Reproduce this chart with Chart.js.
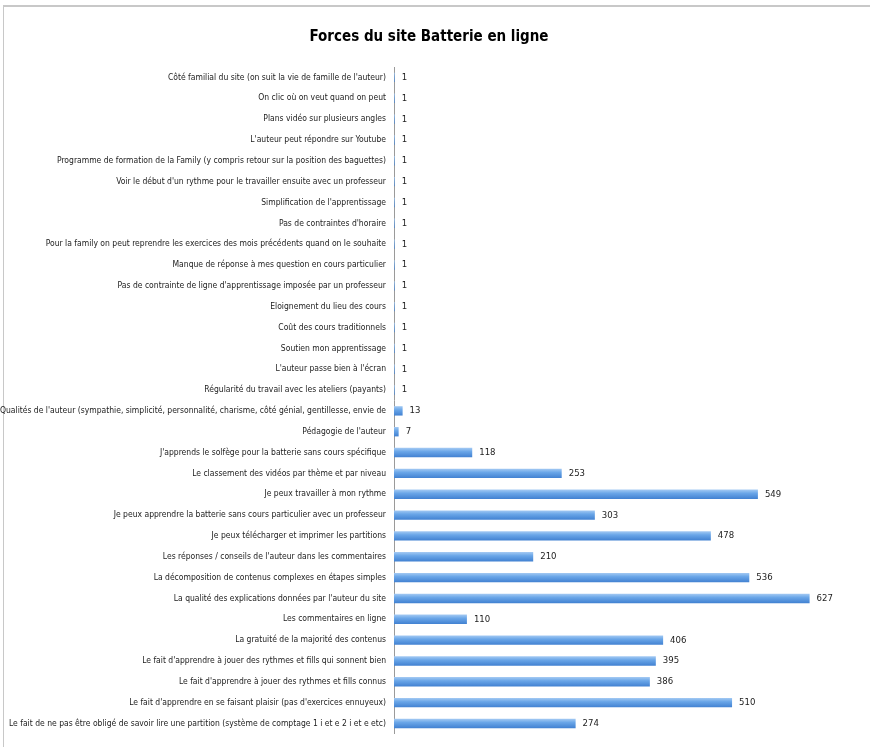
<!DOCTYPE html>
<html lang="fr">
<head>
    <meta charset="UTF-8">
    <title>Forces du site Batterie en ligne</title>
    <style>
        body {
            margin: 0;
            background: #ffffff;
        }
        .cadre {
            position: absolute;
            left: 3px;
            top: 5px;
            width: 867px;
            height: 742px;
            border-top: 2px solid #c8c8c8;
            border-left: 1px solid #c8c8c8;
        }
        .chart-container {
            position: absolute;
            left: 0;
            top: 0;
            width: 870px;
            height: 747px;
        }
    </style>
    <script src="https://cdn.jsdelivr.net/npm/chart.js"></script>
</head>
<body>
    <div class="cadre"></div>
    <div class="chart-container">
        <canvas id="forces"></canvas>
    </div>

    <script>
        // Données
        const forces = [
            "Côté familial du site (on suit la vie de famille de l'auteur)",
            "On clic où on veut quand on peut",
            "Plans vidéo sur plusieurs angles",
            "L'auteur peut répondre sur Youtube",
            "Programme de formation de la Family (y compris retour sur la position des baguettes)",
            "Voir le début d'un rythme pour le travailler ensuite avec un professeur",
            "Simplification de l'apprentissage",
            "Pas de contraintes d'horaire",
            "Pour la family on peut reprendre les exercices des mois précédents quand on le souhaite",
            "Manque de réponse à mes question en cours particulier",
            "Pas de contrainte de ligne d'apprentissage imposée par un professeur",
            "Eloignement du lieu des cours",
            "Coût des cours traditionnels",
            "Soutien mon apprentissage",
            "L'auteur passe bien à l'écran",
            "Régularité du travail avec les ateliers (payants)",
            "Qualités de l'auteur (sympathie, simplicité, personnalité, charisme, côté génial, gentillesse, envie de",
            "Pédagogie de l'auteur",
            "J'apprends le solfège pour la batterie sans cours spécifique",
            "Le classement des vidéos par thème et par niveau",
            "Je peux travailler à mon rythme",
            "Je peux apprendre la batterie sans cours particulier avec un professeur",
            "Je peux télécharger et imprimer les partitions",
            "Les réponses / conseils de l'auteur dans les commentaires",
            "La décomposition de contenus complexes en étapes simples",
            "La qualité des explications données par l'auteur du site",
            "Les commentaires en ligne",
            "La gratuité de la majorité des contenus",
            "Le fait d'apprendre à jouer des rythmes et fills qui sonnent bien",
            "Le fait d'apprendre à jouer des rythmes et fills connus",
            "Le fait d'apprendre en se faisant plaisir (pas d'exercices ennuyeux)",
            "Le fait de ne pas être obligé de savoir lire une partition (système de comptage 1 i et e 2 i et e etc)"
        ];
        const reponses = [1, 1, 1, 1, 1, 1, 1, 1, 1, 1, 1, 1, 1, 1, 1, 1, 13, 7, 118, 253, 549, 303, 478, 210, 536, 627, 110, 406, 395, 386, 510, 274];

        const police = "'Liberation Sans Narrow', 'DejaVu Sans Condensed', sans-serif";

        // Valeurs à droite des barres
        const etiquettes = {
            id: 'etiquettes',
            afterDatasetsDraw(chart) {
                const ctx = chart.ctx;
                const meta = chart.getDatasetMeta(0);
                ctx.save();
                ctx.font = '9.5px ' + police;
                ctx.fillStyle = '#222';
                ctx.textBaseline = 'middle';
                meta.data.forEach((bar, i) => {
                    ctx.fillText(reponses[i], bar.x + 7, bar.y);
                });
                ctx.restore();
            }
        };

        // Dégradé vertical pour chaque barre
        function degrade(context) {
            const chart = context.chart;
            if (!chart.chartArea) return '#5b9be0';
            const y = chart.scales.y.getPixelForValue(context.dataIndex);
            const g = chart.ctx.createLinearGradient(0, y - 5, 0, y + 5);
            g.addColorStop(0, '#a9cdf4');
            g.addColorStop(0.4, '#6aa6e8');
            g.addColorStop(1, '#3f7fd0');
            return g;
        }

        const ctxForces = document.getElementById('forces').getContext('2d');
        const graphique = new Chart(ctxForces, {
            type: 'bar',
            data: {
                labels: forces,
                datasets: [{
                    label: 'Forces',
                    data: reponses,
                    backgroundColor: degrade,
                    barPercentage: 0.45,
                    categoryPercentage: 1.0
                }]
            },
            options: {
                indexAxis: 'y',
                responsive: true,
                maintainAspectRatio: false,
                animation: false,
                layout: {
                    padding: { left: 0, right: 12, top: 0, bottom: 10 }
                },
                scales: {
                    x: {
                        display: false,
                        min: 0,
                        max: 700
                    },
                    y: {
                        afterFit(scale) {
                            scale.width = 394;
                        },
                        grid: { display: false, drawTicks: false },
                        border: { display: true, color: '#9a9a9a', width: 1 },
                        ticks: {
                            autoSkip: false,
                            padding: 8,
                            color: '#222',
                            font: { family: police, size: 8.5 }
                        }
                    }
                },
                plugins: {
                    legend: { display: false },
                    tooltip: { enabled: false },
                    title: {
                        display: true,
                        text: 'Forces du site Batterie en ligne',
                        color: '#000',
                        font: { family: police, size: 15, weight: 'bold' },
                        padding: { top: 28, bottom: 21 }
                    }
                }
            },
            plugins: [etiquettes]
        });
    </script>
</body>
</html>
